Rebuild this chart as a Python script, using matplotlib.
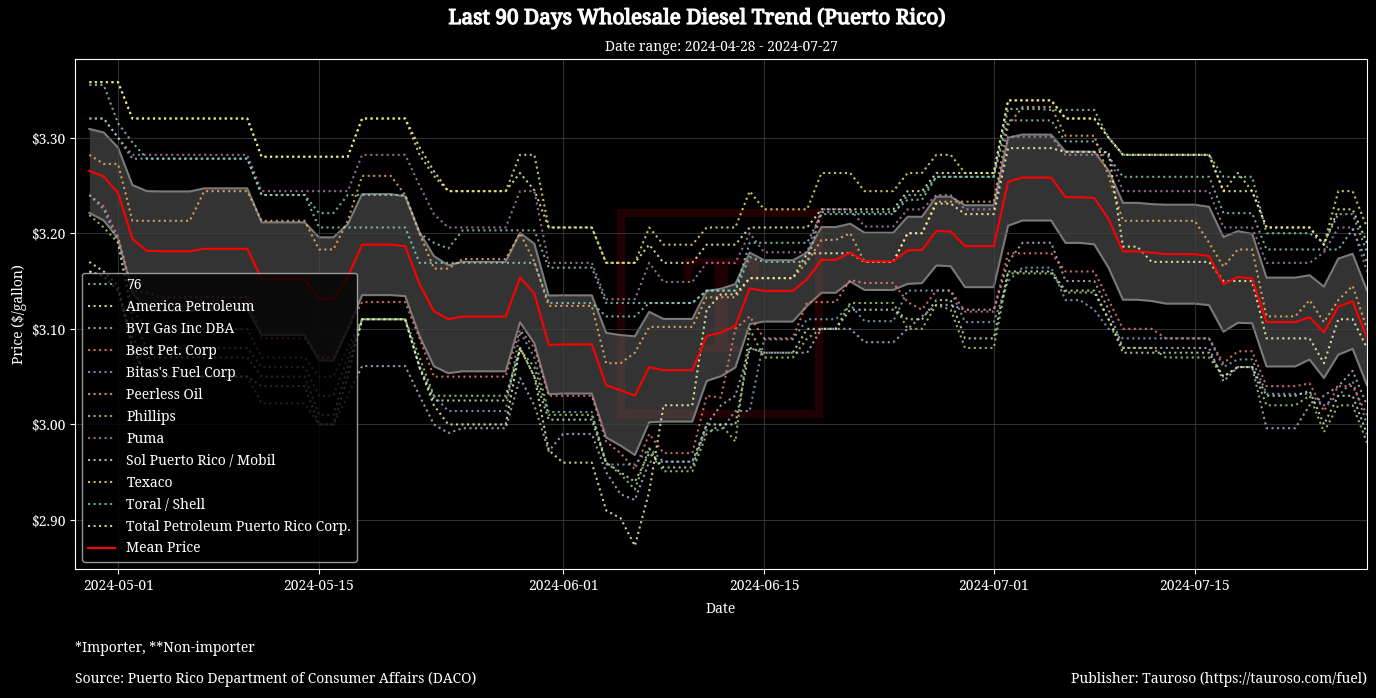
import numpy as np
import pandas as pd
import matplotlib
matplotlib.use("Agg")
import matplotlib.pyplot as plt
import matplotlib.dates as mdates
import matplotlib.patheffects as pe
from matplotlib.ticker import FuncFormatter, MultipleLocator
from matplotlib.patches import Rectangle

plt.style.use("dark_background")
plt.rcParams["font.family"] = ["Noto Serif", "DejaVu Serif"]

start_date = "2024-04-29"
end_date = "2024-07-27"
companies = ["76", "America Petroleum", "BVI Gas Inc DBA", "Best Pet. Corp",
             "Bitas's Fuel Corp", "Peerless Oil", "Phillips", "Puma",
             "Sol Puerto Rico / Mobil", "Texaco", "Toral / Shell",
             "Total Petroleum Puerto Rico Corp."]

p_76 = [3.355, 3.355, 3.315, 3.295, 3.278, 3.278, 3.278, 3.278, 3.278, 3.278,
        3.278, 3.278, 3.24, 3.24, 3.24, 3.24, 3.221, 3.221, 3.24, 3.24,
        3.24, 3.24, 3.24, 3.20, 3.19, 3.184, 3.203, 3.203, 3.203, 3.203,
        3.203, 3.203, 3.164, 3.164, 3.164, 3.164, 3.127, 3.127, 3.127, 3.127,
        3.127, 3.127, 3.127, 3.14, 3.14, 3.14, 3.175, 3.17, 3.17, 3.17,
        3.17, 3.222, 3.222, 3.222, 3.222, 3.222, 3.222, 3.235, 3.235, 3.259,
        3.259, 3.259, 3.259, 3.259, 3.318, 3.318, 3.318, 3.318, 3.296, 3.296,
        3.296, 3.28, 3.259, 3.259, 3.259, 3.259, 3.259, 3.259, 3.259, 3.221,
        3.221, 3.221, 3.183, 3.183, 3.183, 3.183, 3.183, 3.183, 3.204, 3.17]
p_america = [3.358, 3.358, 3.358, 3.32, 3.32, 3.32, 3.32, 3.32, 3.32, 3.32,
             3.32, 3.32, 3.28, 3.28, 3.28, 3.28, 3.28, 3.28, 3.28, 3.32,
             3.32, 3.32, 3.32, 3.29, 3.265, 3.244, 3.244, 3.244, 3.244, 3.244,
             3.263, 3.245, 3.206, 3.206, 3.206, 3.206, 3.169, 3.169, 3.169, 3.188,
             3.169, 3.169, 3.169, 3.188, 3.188, 3.188, 3.206, 3.206, 3.206, 3.206,
             3.206, 3.225, 3.225, 3.225, 3.225, 3.225, 3.225, 3.244, 3.244, 3.263,
             3.263, 3.263, 3.263, 3.263, 3.339, 3.339, 3.339, 3.339, 3.32, 3.32,
             3.32, 3.30, 3.282, 3.282, 3.282, 3.282, 3.282, 3.282, 3.282, 3.244,
             3.244, 3.244, 3.206, 3.206, 3.206, 3.206, 3.188, 3.225, 3.225, 3.19]
p_bvi = [3.16, 3.155, 3.14, 3.08, 3.05, 3.05, 3.05, 3.05, 3.05, 3.05,
         3.05, 3.05, 3.022, 3.022, 3.022, 3.022, 3.0, 3.0, 3.03, 3.061,
         3.061, 3.061, 3.061, 3.03, 3.0, 2.991, 2.996, 2.996, 2.996, 2.996,
         3.0485, 3.02, 2.972, 2.99, 2.99, 2.99, 2.95, 2.927, 2.921, 2.961,
         2.961, 2.961, 2.961, 3.0, 3.02, 3.03, 3.08, 3.075, 3.075, 3.075,
         3.075, 3.10, 3.10, 3.10, 3.086, 3.086, 3.086, 3.10, 3.113, 3.125,
         3.125, 3.12, 3.12, 3.12, 3.17, 3.19, 3.19, 3.19, 3.15, 3.15,
         3.15, 3.12, 3.08, 3.08, 3.08, 3.08, 3.08, 3.08, 3.08, 3.045,
         3.06, 3.06, 2.996, 2.996, 2.996, 3.02, 3.03, 3.04, 3.056, 3.02]
p_best = [3.24, 3.228, 3.196, 3.14, 3.138, 3.133, 3.133, 3.133, 3.133, 3.133,
          3.133, 3.133, 3.09, 3.09, 3.09, 3.09, 3.07, 3.07, 3.10, 3.128,
          3.128, 3.128, 3.128, 3.09, 3.05, 3.05, 3.05, 3.05, 3.05, 3.05,
          3.099, 3.08, 3.03, 3.03, 3.03, 3.03, 2.982, 2.97, 2.953, 2.99,
          2.97, 2.97, 2.97, 3.03, 3.028, 3.10, 3.113, 3.09, 3.09, 3.09,
          3.128, 3.128, 3.128, 3.151, 3.148, 3.148, 3.148, 3.128, 3.12, 3.14,
          3.14, 3.118, 3.118, 3.118, 3.179, 3.179, 3.179, 3.179, 3.16, 3.16,
          3.16, 3.13, 3.10, 3.10, 3.10, 3.09, 3.09, 3.09, 3.09, 3.064,
          3.0765, 3.0765, 3.04, 3.04, 3.04, 3.043, 3.014, 3.04, 3.04, 3.01]
p_bitas = [3.24, 3.225, 3.19, 3.12, 3.10, 3.10, 3.10, 3.10, 3.10, 3.10,
           3.10, 3.10, 3.07, 3.07, 3.07, 3.07, 3.05, 3.05, 3.08, 3.11,
           3.11, 3.11, 3.11, 3.06, 3.03, 3.014, 3.014, 3.014, 3.014, 3.014,
           3.097, 3.07, 3.013, 3.013, 3.013, 3.013, 2.958, 2.958, 2.958, 2.975,
           2.961, 2.961, 2.961, 2.994, 2.994, 3.014, 3.014, 3.089, 3.089, 3.089,
           3.11, 3.11, 3.11, 3.125, 3.108, 3.108, 3.108, 3.14, 3.14, 3.14,
           3.14, 3.107, 3.107, 3.107, 3.15, 3.164, 3.164, 3.164, 3.13, 3.13,
           3.12, 3.10, 3.09, 3.09, 3.09, 3.09, 3.09, 3.09, 3.09, 3.06,
           3.068, 3.068, 3.032, 3.032, 3.032, 3.032, 3.02, 3.03, 3.045, 3.0]
p_peerless = [3.282, 3.2725, 3.2725, 3.213, 3.213, 3.213, 3.213, 3.213, 3.244, 3.244,
              3.244, 3.244, 3.213, 3.213, 3.213, 3.213, 3.183, 3.183, 3.213, 3.26,
              3.26, 3.26, 3.24, 3.20, 3.163, 3.163, 3.173, 3.173, 3.173, 3.173,
              3.20, 3.17, 3.124, 3.124, 3.124, 3.124, 3.064, 3.064, 3.075, 3.102,
              3.102, 3.102, 3.102, 3.133, 3.133, 3.133, 3.153, 3.153, 3.153, 3.153,
              3.17, 3.193, 3.193, 3.20, 3.17, 3.17, 3.17, 3.20, 3.20, 3.233,
              3.233, 3.233, 3.233, 3.233, 3.313, 3.332, 3.332, 3.332, 3.302, 3.302,
              3.302, 3.26, 3.213, 3.213, 3.213, 3.213, 3.213, 3.213, 3.19, 3.165,
              3.183, 3.183, 3.113, 3.113, 3.113, 3.13, 3.107, 3.13, 3.145, 3.10]
p_phillips = [3.219, 3.206, 3.19, 3.11, 3.08, 3.08, 3.08, 3.08, 3.08, 3.08,
              3.08, 3.08, 3.06, 3.06, 3.06, 3.06, 3.03, 3.03, 3.07, 3.11,
              3.11, 3.11, 3.11, 3.07, 3.03, 3.03, 3.03, 3.03, 3.03, 3.03,
              3.078, 3.06, 3.01, 3.01, 3.01, 3.01, 2.96, 2.948, 2.932, 2.975,
              2.951, 2.951, 2.951, 2.99, 3.0, 2.982, 3.10, 3.07, 3.07, 3.07,
              3.09, 3.10, 3.10, 3.127, 3.127, 3.127, 3.127, 3.10, 3.10, 3.125,
              3.12, 3.08, 3.08, 3.08, 3.158, 3.158, 3.158, 3.158, 3.138, 3.138,
              3.138, 3.11, 3.08, 3.08, 3.08, 3.07, 3.07, 3.07, 3.07, 3.05,
              3.06, 3.06, 3.02, 3.02, 3.02, 3.03, 2.992, 3.02, 3.02, 2.981]
p_puma = [3.32, 3.32, 3.30, 3.282, 3.282, 3.282, 3.282, 3.282, 3.282, 3.282,
          3.282, 3.282, 3.244, 3.244, 3.244, 3.244, 3.244, 3.244, 3.244, 3.282,
          3.282, 3.282, 3.282, 3.25, 3.22, 3.206, 3.206, 3.206, 3.206, 3.206,
          3.244, 3.244, 3.169, 3.169, 3.169, 3.169, 3.131, 3.131, 3.131, 3.169,
          3.149, 3.149, 3.149, 3.169, 3.169, 3.169, 3.20, 3.18, 3.18, 3.18,
          3.18, 3.225, 3.225, 3.225, 3.207, 3.207, 3.207, 3.225, 3.225, 3.24,
          3.24, 3.225, 3.225, 3.225, 3.301, 3.301, 3.301, 3.301, 3.282, 3.282,
          3.282, 3.282, 3.244, 3.244, 3.244, 3.244, 3.244, 3.244, 3.244, 3.206,
          3.206, 3.206, 3.169, 3.169, 3.169, 3.169, 3.18, 3.206, 3.206, 3.16]
p_sol = [3.16, 3.155, 3.14, 3.09, 3.07, 3.07, 3.07, 3.07, 3.07, 3.07,
         3.07, 3.07, 3.05, 3.05, 3.05, 3.05, 3.01, 3.01, 3.06, 3.11,
         3.11, 3.11, 3.11, 3.06, 3.025, 3.025, 3.025, 3.025, 3.025, 3.025,
         3.08, 3.05, 3.005, 3.005, 3.005, 3.005, 2.96, 2.95, 2.94, 2.97,
         2.955, 2.955, 2.955, 3.0, 3.0, 3.0, 3.08, 3.075, 3.075, 3.075,
         3.10, 3.10, 3.10, 3.12, 3.12, 3.12, 3.12, 3.11, 3.11, 3.13,
         3.13, 3.09, 3.09, 3.09, 3.16, 3.16, 3.16, 3.16, 3.14, 3.14,
         3.14, 3.11, 3.075, 3.075, 3.075, 3.075, 3.075, 3.075, 3.075, 3.05,
         3.06, 3.06, 3.03, 3.03, 3.03, 3.035, 3.0, 3.03, 3.03, 2.99]
p_texaco = [3.358, 3.358, 3.358, 3.32, 3.32, 3.32, 3.32, 3.32, 3.32, 3.32,
            3.32, 3.32, 3.28, 3.28, 3.28, 3.28, 3.28, 3.28, 3.28, 3.32,
            3.32, 3.32, 3.32, 3.282, 3.26, 3.244, 3.244, 3.244, 3.244, 3.244,
            3.282, 3.282, 3.206, 3.206, 3.206, 3.206, 3.169, 3.169, 3.169, 3.206,
            3.188, 3.188, 3.188, 3.206, 3.206, 3.206, 3.244, 3.225, 3.225, 3.225,
            3.225, 3.263, 3.263, 3.263, 3.244, 3.244, 3.244, 3.263, 3.263, 3.282,
            3.282, 3.263, 3.263, 3.263, 3.339, 3.339, 3.339, 3.339, 3.32, 3.32,
            3.32, 3.30, 3.282, 3.282, 3.282, 3.282, 3.282, 3.282, 3.282, 3.244,
            3.263, 3.244, 3.206, 3.206, 3.206, 3.206, 3.188, 3.244, 3.244, 3.206]
p_toral = [3.32, 3.32, 3.30, 3.278, 3.278, 3.278, 3.278, 3.278, 3.278, 3.278,
           3.278, 3.278, 3.24, 3.24, 3.24, 3.24, 3.206, 3.206, 3.206, 3.206,
           3.206, 3.206, 3.206, 3.169, 3.169, 3.169, 3.169, 3.169, 3.169, 3.169,
           3.169, 3.169, 3.127, 3.127, 3.127, 3.127, 3.113, 3.113, 3.113, 3.127,
           3.127, 3.127, 3.127, 3.14, 3.14, 3.14, 3.19, 3.19, 3.19, 3.19,
           3.19, 3.22, 3.22, 3.22, 3.22, 3.22, 3.22, 3.24, 3.24, 3.259,
           3.259, 3.259, 3.259, 3.259, 3.33, 3.33, 3.33, 3.329, 3.329, 3.329,
           3.329, 3.30, 3.282, 3.282, 3.282, 3.282, 3.282, 3.282, 3.282, 3.259,
           3.259, 3.259, 3.20, 3.20, 3.20, 3.20, 3.19, 3.22, 3.22, 3.18]
p_total = [3.17, 3.16, 3.145, 3.08, 3.05, 3.05, 3.05, 3.05, 3.05, 3.05,
           3.05, 3.05, 3.04, 3.04, 3.04, 3.04, 3.0, 3.0, 3.05, 3.11,
           3.11, 3.11, 3.11, 3.06, 3.02, 3.0, 3.0, 3.0, 3.0, 3.0,
           3.08, 3.05, 2.973, 2.96, 2.96, 2.96, 2.91, 2.902, 2.873, 2.93,
           3.02, 3.02, 3.02, 3.12, 3.136, 3.136, 3.153, 3.153, 3.153, 3.153,
           3.179, 3.179, 3.179, 3.179, 3.17, 3.17, 3.17, 3.20, 3.20, 3.231,
           3.231, 3.22, 3.22, 3.22, 3.289, 3.289, 3.289, 3.289, 3.285, 3.285,
           3.285, 3.285, 3.186, 3.186, 3.17, 3.17, 3.17, 3.17, 3.17, 3.15,
           3.15, 3.15, 3.09, 3.09, 3.09, 3.09, 3.064, 3.11, 3.11, 3.08]

series = [p_76, p_america, p_bvi, p_best, p_bitas, p_peerless, p_phillips,
          p_puma, p_sol, p_texaco, p_toral, p_total]
line_colors = ["#8dd3c7", "#feffb3", "#bfbbd9", "#fa8174", "#81b1d2", "#fdb462",
               "#b3de69", "#bc82bd", "#ccebc4", "#ffed6f", "#8dd3c7", "#feffb3"]

title_text = "Last 90 Days Wholesale Diesel Trend (Puerto Rico)"
subtitle_text = "Date range: 2024-04-28 - 2024-07-27"
note_text = "*Importer, **Non-importer"
source_text = "Source: Puerto Rico Department of Consumer Affairs (DACO)"
publisher_text = "Publisher: Tauroso (https://tauroso.com/fuel)"

dates = pd.date_range(start_date, end_date, freq="D")
df = pd.DataFrame({c: s for c, s in zip(companies, series)}, index=dates)
mean = df.mean(axis=1)
sem = df.std(axis=1, ddof=1) / np.sqrt(df.shape[1])
lo = mean - 1.96 * sem
hi = mean + 1.96 * sem

W, H = 1376, 698
fig = plt.figure(figsize=(W / 100, H / 100), dpi=100, facecolor="black")
ax = fig.add_axes([75 / W, 1 - 569 / H, (1367 - 75) / W, (569 - 59) / H])
ax.set_facecolor("black")

# faint watermark logo
logo_box = Rectangle(((621 - 75) / (1367 - 75), (569 - 414) / (569 - 59)),
                     198 / (1367 - 75), 201 / (569 - 59),
                     transform=ax.transAxes, fill=False, edgecolor="red",
                     alpha=0.13, linewidth=6, zorder=0.8)
ax.add_patch(logo_box)
ax.text((721 - 75) / (1367 - 75), (569 - 318) / (569 - 59), "T",
        transform=ax.transAxes, color="red", alpha=0.13, fontsize=95,
        ha="center", va="center", zorder=0.8)

ax.fill_between(dates, lo, hi, color="gray", alpha=0.4, linewidth=0, zorder=1)
ax.plot(dates, hi, color="#7a7a7a", lw=1.5, zorder=1.5)
ax.plot(dates, lo, color="#7a7a7a", lw=1.5, zorder=1.5)

for c, col in zip(companies, line_colors):
    ax.plot(dates, df[c], linestyle=":", color=col, lw=1.5, alpha=0.8,
            label=c, zorder=2)
ax.plot(dates, mean, color="red", lw=1.5, label="Mean Price", zorder=3)

ax.set_xlim(pd.Timestamp("2024-04-28"), pd.Timestamp("2024-07-27"))
ax.xaxis.set_major_locator(mdates.DayLocator(bymonthday=[1, 15]))
ax.xaxis.set_major_formatter(mdates.DateFormatter("%Y-%m-%d"))
ax.yaxis.set_major_locator(MultipleLocator(0.1))
ax.yaxis.set_major_formatter(FuncFormatter(lambda v, p: f"${v:.2f}"))
ax.tick_params(colors="white", labelsize=10)
ax.grid(True, color="#444444", linewidth=0.8, alpha=0.7)
for s in ax.spines.values():
    s.set_color("white")

ax.set_xlabel("Date", fontsize=10, color="white", labelpad=6)
ax.set_ylabel("Price ($/gallon)", fontsize=10, color="white", labelpad=3)
ax.set_title(subtitle_text, fontsize=10, color="white", pad=6)
fig.text(697 / W, 1 - 18 / H, title_text, fontsize=15,
         color="white", ha="center", va="center",
         path_effects=[pe.withStroke(linewidth=0.9, foreground="white")])

leg = ax.legend(loc="lower left", fontsize=10, facecolor="black",
                edgecolor="#bbbbbb", framealpha=0.8)
for t in leg.get_texts():
    t.set_color("white")

fig.text(75 / W, 1 - 648 / H, note_text, fontsize=10, color="white",
         ha="left", va="center")
fig.text(75 / W, 1 - 679 / H, source_text, fontsize=10, color="white",
         ha="left", va="center")
fig.text(1367 / W, 1 - 679 / H, publisher_text, fontsize=10, color="white",
         ha="right", va="center")

fig.savefig("out.png", dpi=100, facecolor="black")
